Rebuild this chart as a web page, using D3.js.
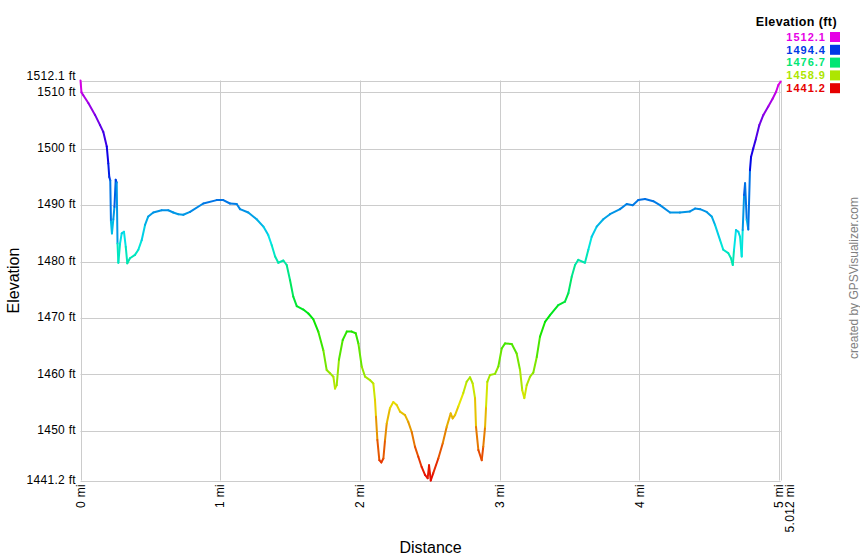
<!DOCTYPE html>
<html>
<head>
<meta charset="utf-8">
<script src="https://cdn.jsdelivr.net/npm/d3@7"></script>
<style>
  html, body { margin: 0; padding: 0; background: #fff; }
  svg { display: block; font-family: "Liberation Sans", Arial, sans-serif; }
</style>
</head>
<body>
<svg id="chart" width="860" height="560"></svg>
<script>
// ---- data ----
const distMi = [0,0.007,0.020,0.056,0.104,0.140,0.163,0.188,0.199,0.206,0.213,0.218,0.225,0.235,0.243,0.252,0.259,0.265,0.271,0.283,0.295,0.311,0.324,0.335,0.354,0.390,0.414,0.438,0.462,0.485,0.521,0.581,0.628,0.664,0.700,0.736,0.784,0.879,0.975,1.022,1.070,1.118,1.142,1.201,1.261,1.309,1.344,1.369,1.393,1.416,1.452,1.476,1.500,1.523,1.548,1.595,1.631,1.666,1.702,1.738,1.762,1.786,1.810,1.822,1.834,1.850,1.877,1.906,1.941,1.970,1.989,2.013,2.037,2.072,2.096,2.108,2.115,2.125,2.139,2.153,2.168,2.180,2.192,2.215,2.239,2.263,2.287,2.323,2.346,2.371,2.394,2.418,2.442,2.466,2.485,2.495,2.507,2.525,2.561,2.593,2.621,2.650,2.664,2.681,2.704,2.740,2.764,2.788,2.807,2.824,2.831,2.848,2.872,2.883,2.896,2.903,2.912,2.931,2.967,2.991,3.015,3.039,3.087,3.122,3.146,3.162,3.177,3.194,3.218,3.241,3.266,3.289,3.325,3.361,3.420,3.468,3.492,3.516,3.540,3.563,3.611,3.635,3.659,3.695,3.742,3.790,3.862,3.910,3.953,3.993,4.041,4.100,4.148,4.220,4.291,4.363,4.399,4.435,4.482,4.518,4.542,4.578,4.601,4.637,4.656,4.669,4.678,4.692,4.709,4.721,4.733,4.740,4.750,4.757,4.769,4.780,4.792,4.800,4.816,4.835,4.859,4.888,4.923,4.955,4.979,4.995,5.012];
const elevFt = [1512.1,1510.0,1509.5,1508.1,1506.0,1504.2,1503.0,1500.4,1497.4,1495.0,1494.4,1487.1,1485.0,1487.5,1489.7,1494.5,1494.0,1483.2,1479.8,1483.2,1485.0,1485.3,1482.6,1479.7,1480.6,1481.2,1482.1,1483.8,1486.5,1488.0,1488.7,1489.1,1489.1,1488.7,1488.4,1488.3,1488.8,1490.3,1490.9,1490.9,1490.3,1490.2,1489.3,1488.7,1487.5,1486.2,1484.7,1482.9,1480.9,1479.8,1480.2,1479.4,1476.7,1473.8,1472.1,1471.5,1470.8,1469.8,1467.6,1464.3,1460.8,1460.2,1459.6,1457.5,1458.1,1462.6,1466.1,1467.6,1467.6,1467.3,1465.5,1461.4,1459.6,1459.0,1458.4,1455.5,1452.5,1448.4,1444.8,1444.4,1445.1,1448.4,1451.3,1454.0,1455.1,1454.6,1453.4,1452.8,1451.6,1449.8,1447.2,1445.4,1443.6,1442.2,1441.6,1443.9,1441.2,1442.5,1445.1,1447.8,1450.7,1453.1,1452.2,1452.8,1454.3,1456.7,1458.7,1459.5,1458.4,1455.8,1450.7,1446.6,1444.8,1447.2,1450.7,1454.3,1458.7,1459.9,1460.1,1461.4,1464.6,1465.5,1465.4,1463.7,1460.8,1457.2,1455.8,1458.1,1459.6,1460.3,1463.1,1466.7,1469.3,1470.5,1472.3,1472.9,1474.4,1477.3,1479.4,1480.3,1479.8,1482.1,1484.4,1486.2,1487.5,1488.4,1489.3,1490.2,1490.0,1490.9,1491.1,1490.7,1490.0,1488.7,1488.7,1488.9,1489.4,1489.3,1488.8,1488.0,1486.5,1483.8,1482.1,1481.5,1480.6,1479.4,1482.1,1485.6,1485.3,1484.4,1480.9,1485.6,1491.8,1493.9,1487.4,1485.7,1496.2,1498.6,1500.1,1501.8,1504.2,1506.0,1507.5,1508.9,1510.1,1511.3,1511.9];
const yTicks = [1441.2,1450,1460,1470,1480,1490,1500,1510,1512.1];
const xTicks = [0,1,2,3,4,5];
const xEnd = 5.012;
const legendVals = [1512.1,1494.4,1476.7,1458.9,1441.2];
const legendTitle = "Elevation (ft)";
const xTitle = "Distance";
const yTitle = "Elevation";
const credit = "created by GPSVisualizer.com";

// ---- layout ----
const svg = d3.select("#chart");
const pL = 80.5, pR = 780.7, pT = 80.5, pB = 480.5;
const x = d3.scaleLinear().domain([0, xEnd]).range([pL, pR]);
const y = d3.scaleLinear().domain([1441.2, 1512.1]).range([pB, pT]);
const color = e => d3.hsl(300 * (e - 1441.2) / (1512.1 - 1441.2), 1, 0.45).toString();
const grid = "#cccccc";

// grid
const g = svg.append("g");
g.selectAll("line.h").data(yTicks).join("line")
  .attr("x1", pL).attr("x2", pR)
  .attr("y1", d => Math.round(y(d)) + 0.5).attr("y2", d => Math.round(y(d)) + 0.5)
  .attr("stroke", grid).attr("stroke-width", 1);
g.selectAll("line.v").data(xTicks.concat([xEnd])).join("line")
  .attr("x1", d => Math.round(x(d)) + 0.5).attr("x2", d => Math.round(x(d)) + 0.5)
  .attr("y1", pT).attr("y2", pB)
  .attr("stroke", grid).attr("stroke-width", 1);

// y labels
svg.append("g").selectAll("text").data(yTicks).join("text")
  .attr("x", 76).attr("y", d => d === 1512.1 ? 76 : y(d) - 1)
  .attr("dy", "0.35em").attr("text-anchor", "end")
  .attr("font-size", 12).attr("letter-spacing", 0.3).attr("fill", "#000")
  .text(d => d + " ft");

// x labels
const xl = xTicks.map(d => ({v: d, px: x(d), t: d + " mi"}));
xl.push({v: xEnd, px: x(xEnd) + 9, t: xEnd + " mi"});
svg.append("g").selectAll("text").data(xl).join("text")
  .attr("transform", d => `translate(${d.px},484) rotate(-90)`)
  .attr("dy", "0.35em").attr("text-anchor", "end")
  .attr("font-size", 12).attr("letter-spacing", 0.3).attr("fill", "#000")
  .text(d => d.t);

// titles
svg.append("text").attr("x", (pL + pR) / 2).attr("y", 553)
  .attr("text-anchor", "middle").attr("font-size", 16).text(xTitle);
svg.append("text").attr("transform", `translate(19,${(pT + pB) / 2}) rotate(-90)`)
  .attr("text-anchor", "middle").attr("font-size", 16).text(yTitle);

// credit
svg.append("text").attr("transform", `translate(858,278) rotate(-90)`)
  .attr("text-anchor", "middle").attr("font-size", 12).attr("fill", "#808080").text(credit);

// profile line, coloured per segment by elevation
const pts = distMi.map((d, i) => ({d, e: elevFt[i]}));
const segs = d3.pairs(pts);
svg.append("g").selectAll("line").data(segs).join("line")
  .attr("x1", s => x(s[0].d)).attr("y1", s => y(s[0].e))
  .attr("x2", s => x(s[1].d)).attr("y2", s => y(s[1].e))
  .attr("stroke", s => color((s[0].e + s[1].e) / 2))
  .attr("stroke-width", 2).attr("stroke-linecap", "round");

// legend
const lg = svg.append("g");
lg.append("text").attr("x", 837).attr("y", 26).attr("text-anchor", "end")
  .attr("font-size", 12.5).attr("font-weight", "bold").attr("letter-spacing", 0.4).text(legendTitle);
const rows = lg.selectAll("g.row").data(legendVals).join("g")
  .attr("transform", (d, i) => `translate(0,${37 + i * 12.8})`);
rows.append("text").attr("x", 826).attr("dy", "0.35em").attr("text-anchor", "end")
  .attr("font-size", 11).attr("font-weight", "bold").attr("letter-spacing", 1)
  .attr("fill", d => color(d))
  .text(d => d.toFixed(1));
rows.append("rect").attr("x", 830).attr("y", -5).attr("width", 10).attr("height", 10)
  .attr("fill", d => color(d));
</script>
</body>
</html>
